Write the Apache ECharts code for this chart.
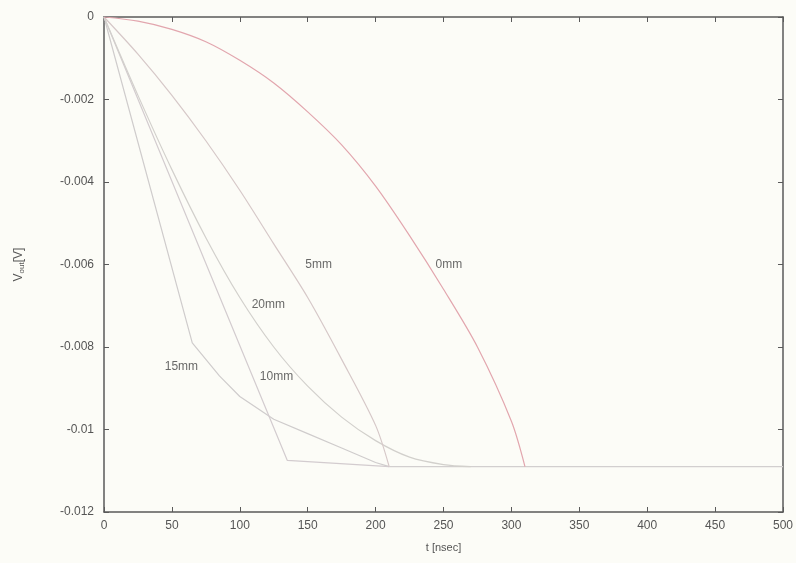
<!DOCTYPE html>
<html>
<head>
<meta charset="utf-8">
<script src="https://cdn.jsdelivr.net/npm/echarts@6/dist/echarts.min.js"></script>
<style>html,body{margin:0;padding:0;background:#fcfcf7;}#c{width:796px;height:563px;}</style>
</head>
<body>
<div id="c"></div>
<script>
// tick labels
var xTicks = [0, 50, 100, 150, 200, 250, 300, 350, 400, 450, 500];
var yTicks = [0, -0.002, -0.004, -0.006, -0.008, -0.01, -0.012];

// series (t [nsec], V)
var t0mm = [0, 25, 50, 75, 100, 125, 150, 175, 200, 225, 250, 275, 300, 310];
var v0mm = [0, -0.0001, -0.0003, -0.0006, -0.00105, -0.0016, -0.0023, -0.0031, -0.0041, -0.0053, -0.0066, -0.0080, -0.0098, -0.0109];

var t5mm = [0, 25, 50, 75, 100, 125, 150, 175, 200, 210];
var v5mm = [0, -0.0009, -0.0019, -0.0030, -0.0042, -0.0055, -0.0068, -0.0083, -0.0099, -0.0109];

var t10mm = [0, 135, 210];
var v10mm = [0, -0.01075, -0.0109];

var t15mm = [0, 65, 85, 100, 125, 150, 175, 200, 210];
var v15mm = [0, -0.0079, -0.0087, -0.0092, -0.00975, -0.0101, -0.01045, -0.0108, -0.0109];

var t20mm = [0, 25, 50, 75, 100, 125, 150, 175, 200, 225, 250, 270];
var v20mm = [0, -0.0019, -0.0037, -0.00535, -0.0068, -0.0080, -0.00895, -0.0097, -0.01027, -0.01067, -0.01085, -0.0109];

// common saturated level reached by all curves
var tPlateau = [210, 500];
var vPlateau = [-0.0109, -0.0109];

// curve label positions (t, V)
var labelNames = ['0mm', '5mm', '20mm', '15mm', '10mm'];
var labelT = [254, 158, 121, 57, 127];
var labelV = [-0.00601, -0.00601, -0.00698, -0.00848, -0.00873];

function pairs(t, v) { return t.map(function (x, i) { return [x, v[i]]; }); }

var chart = echarts.init(document.getElementById('c'));
var axisCol = '#5a5a5a';
var txtCol = '#555';
var font = 'Liberation Sans, Arial, sans-serif';

function mkSeries(name, t, v, color, smooth) {
  return {
    name: name, type: 'line', data: pairs(t, v), smooth: smooth,
    showSymbol: false, symbol: 'none', silent: true,
    lineStyle: { color: color, width: 1.2 }, z: 3
  };
}

var labelData = labelNames.map(function (n, i) {
  return { value: [labelT[i], labelV[i]], label: { formatter: n } };
});

chart.setOption({
  backgroundColor: '#fcfcf7',
  animation: false,
  grid: { left: 104, right: 13, top: 17, bottom: 51, containLabel: false },
  xAxis: [{
    type: 'value', min: 0, max: 500, interval: 50,
    name: 't [nsec]', nameLocation: 'middle', nameGap: 30,
    nameTextStyle: { color: txtCol, fontSize: 11, fontFamily: font },
    axisLine: { onZero: false, lineStyle: { color: axisCol, width: 1.5 } },
    axisTick: { inside: true, length: 5, lineStyle: { color: axisCol } },
    axisLabel: { color: txtCol, fontSize: 12, fontFamily: font, margin: 8 },
    splitLine: { show: false }
  }, {
    type: 'value', min: 0, max: 500, interval: 50, position: 'top',
    axisLine: { onZero: false, lineStyle: { color: axisCol, width: 1.5 } },
    axisTick: { inside: true, length: 5, lineStyle: { color: axisCol } },
    axisLabel: { show: false }, splitLine: { show: false }
  }],
  yAxis: [{
    type: 'value', min: -0.012, max: 0, interval: 0.002,
    name: '{v|V}{s|out}{v|[V]}', nameLocation: 'middle', nameGap: 78, nameRotate: 90,
    nameTextStyle: {
      rich: {
        v: { color: txtCol, fontSize: 12, fontFamily: font },
        s: { color: txtCol, fontSize: 8, fontFamily: font, verticalAlign: 'bottom', padding: [6, 0, 0, 0] }
      }
    },
    axisLine: { onZero: false, lineStyle: { color: axisCol, width: 1.5 } },
    axisTick: { inside: true, length: 5, lineStyle: { color: axisCol } },
    axisLabel: {
      color: txtCol, fontSize: 12, fontFamily: font, margin: 10,
      formatter: function (v) { var r = Math.round(v * 1000) / 1000; return r === 0 ? '0' : String(r); }
    },
    splitLine: { show: false }
  }, {
    type: 'value', min: -0.012, max: 0, interval: 0.002, position: 'right',
    axisLine: { onZero: false, lineStyle: { color: axisCol, width: 1.5 } },
    axisTick: { inside: true, length: 5, lineStyle: { color: axisCol } },
    axisLabel: { show: false }, splitLine: { show: false }
  }],
  series: [
    mkSeries('plateau', tPlateau, vPlateau, '#d2cfcf', false),
    mkSeries('15mm', t15mm, v15mm, '#cfcccc', false),
    mkSeries('10mm', t10mm, v10mm, '#d3cccf', false),
    mkSeries('20mm', t20mm, v20mm, '#d2d0cc', 0.3),
    mkSeries('5mm', t5mm, v5mm, '#d6c8c8', 0.3),
    mkSeries('0mm', t0mm, v0mm, '#e2a6ae', 0.3),
    {
      type: 'scatter', data: labelData, symbolSize: 0, silent: true, z: 5,
      label: { show: true, position: 'inside', color: '#444', fontSize: 12, fontFamily: font }
    }
  ]
});
</script>
</body>
</html>
